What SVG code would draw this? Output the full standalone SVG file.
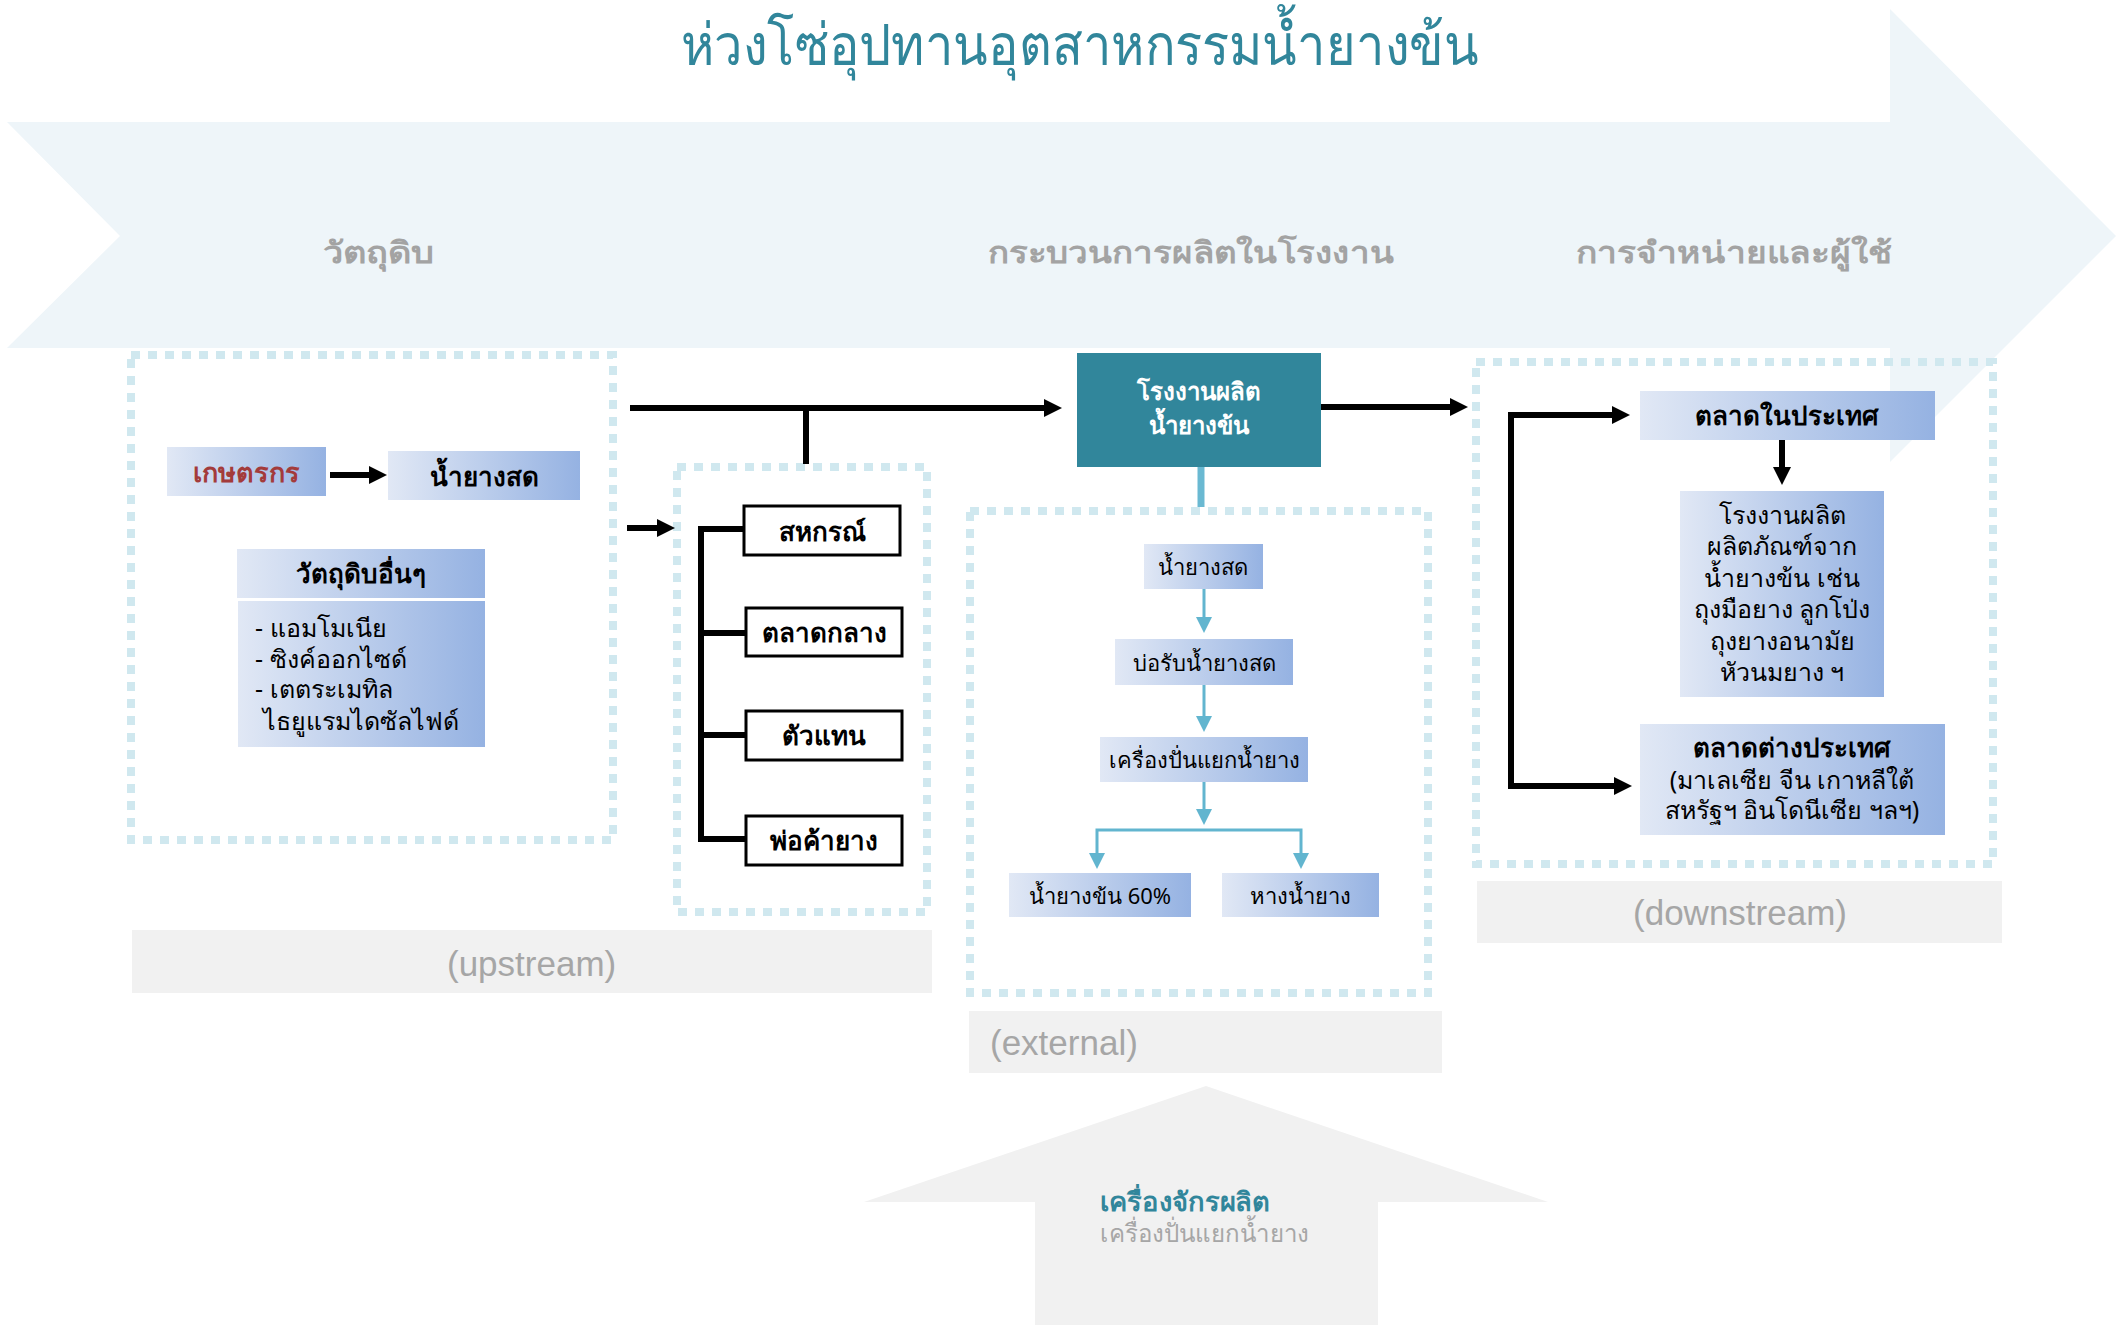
<svg xmlns="http://www.w3.org/2000/svg" width="2127" height="1325" viewBox="0 0 2127 1325">
<style>
text{font-family:"Noto Sans","DejaVu Sans",sans-serif}
.box{fill:url(#gb)}
.wb{fill:#fff;stroke:#000;stroke-width:3}
.zone{fill:none;stroke:#d0e8ef;stroke-width:8;stroke-dasharray:9 8}
.lbl{fill:#f1f1f1}
.lt{font-family:"Liberation Sans",sans-serif;font-size:35px;fill:#a6a6a6}
.hd{font-size:30px;font-weight:bold;fill:#a3a3a3;text-anchor:middle}
.bt{font-size:26px;font-weight:bold;fill:#000;text-anchor:middle}
.rt{font-size:25px;fill:#000;text-anchor:middle}
.ls{font-size:25px;fill:#000}
.et{font-size:22px;fill:#000;text-anchor:middle}
.k{fill:none;stroke:#000;stroke-width:6}
.t{fill:none;stroke:#62b5cf;stroke-width:3}
</style>
<defs>
<linearGradient id="gb" x1="0" y1="0" x2="1" y2="0">
<stop offset="0" stop-color="#e1e8f5"/>
<stop offset="1" stop-color="#95b2e2"/>
</linearGradient>
<marker id="ah" viewBox="0 0 18 18" markerWidth="18" markerHeight="18" markerUnits="userSpaceOnUse" refX="2" refY="9" orient="auto-start-reverse">
<path d="M0,0 L18,9 L0,18 z" fill="#000"/>
</marker>
<marker id="ta" viewBox="0 0 16 16" markerWidth="16" markerHeight="16" markerUnits="userSpaceOnUse" refX="2" refY="8" orient="auto-start-reverse">
<path d="M0,0 L16,8 L0,16 z" fill="#62b5cf"/>
</marker>
</defs>

<g id="background">
<polygon points="7,122 1890,122 1890,9 2116,236 1890,462 1890,348 7,348 120,236" fill="#eef5f9"/>
<text x="1080" y="65" font-size="58" fill="#31869b" text-anchor="middle" textLength="798" lengthAdjust="spacingAndGlyphs">ห่วงโซ่อุปทานอุตสาหกรรมน้ำยางข้น</text>
<text class="hd" x="378" y="263" textLength="111" lengthAdjust="spacingAndGlyphs">วัตถุดิบ</text>
<text class="hd" x="1191" y="263" textLength="406" lengthAdjust="spacingAndGlyphs">กระบวนการผลิตในโรงงาน</text>
<text class="hd" x="1734" y="263" textLength="316" lengthAdjust="spacingAndGlyphs">การจำหน่ายและผู้ใช้</text>
</g>

<g id="zones">
<rect class="zone" x="131" y="355" width="482" height="485"/>
<rect class="zone" x="677" y="467" width="250" height="445"/>
<rect class="zone" x="970" y="511" width="458" height="482"/>
<rect class="zone" x="1476" y="362" width="517" height="502"/>
</g>

<g id="stage-labels">
<rect class="lbl" x="132" y="930" width="800" height="63"/>
<text class="lt" x="447" y="976">(upstream)</text>
<rect class="lbl" x="969" y="1011" width="473" height="62"/>
<text class="lt" x="990" y="1055">(external)</text>
<rect class="lbl" x="1477" y="881" width="525" height="62"/>
<text class="lt" x="1740" y="925" text-anchor="middle">(downstream)</text>
</g>

<g id="machine">
<polygon points="1206,1086 1548,1202 1378,1202 1378,1325 1035,1325 1035,1202 864,1202" fill="#f1f1f1"/>
<text x="1100" y="1211" font-size="26" font-weight="bold" fill="#31869b" textLength="170" lengthAdjust="spacingAndGlyphs">เครื่องจักรผลิต</text>
<text x="1100" y="1242" font-size="25" fill="#a6a6a6" textLength="209" lengthAdjust="spacingAndGlyphs">เครื่องปั่นแยกน้ำยาง</text>
</g>

<g id="connectors">
<path class="k" d="M330,475 H371" stroke-width="5" marker-end="url(#ah)"/>
<path class="k" d="M630,408 H1046" marker-end="url(#ah)"/>
<path class="k" d="M806,408 V464"/>
<path class="k" d="M627,528 H659" stroke-width="5" marker-end="url(#ah)"/>
<path class="k" d="M743,529 H701 V839 H746 M701,633 H746 M701,735 H746" stroke-width="5"/>
<path class="k" d="M1321,407 H1452" marker-end="url(#ah)"/>
<path class="k" d="M1614,415 H1511 V786 H1616" marker-start="url(#ah)" marker-end="url(#ah)"/>
<path class="k" d="M1782,440 V469" stroke-width="5" marker-end="url(#ah)"/>
<path d="M1201,467 V507" fill="none" stroke="#6ab9d2" stroke-width="7"/>
<path class="t" d="M1204,589 V619" marker-end="url(#ta)"/>
<path class="t" d="M1204,685 V718" marker-end="url(#ta)"/>
<path class="t" d="M1204,782 V811" marker-end="url(#ta)"/>
<path class="t" d="M1097,855 V830 H1301 V855" marker-start="url(#ta)" marker-end="url(#ta)"/>
</g>

<g id="farmer">
<rect class="box" x="167" y="447" width="159" height="49"/>
<text class="bt" x="246" y="482" style="fill:#a33b3b;font-size:27px">เกษตรกร</text>
</g>
<g id="fresh-latex">
<rect class="box" x="388" y="451" width="192" height="49"/>
<text class="bt" x="484" y="486">น้ำยางสด</text>
</g>
<g id="other-raw">
<rect class="box" x="237" y="549" width="248" height="49"/>
<text class="bt" x="361" y="583">วัตถุดิบอื่นๆ</text>
<rect class="box" x="238" y="601" width="247" height="146"/>
<text class="ls" x="255" y="637">- แอมโมเนีย</text>
<text class="ls" x="255" y="668">- ซิงค์ออกไซด์</text>
<text class="ls" x="255" y="698">- เตตระเมทิล</text>
<text class="ls" x="263" y="730">ไธยูแรมไดซัลไฟด์</text>
</g>

<g id="coop"><rect class="wb" x="744" y="506" width="156" height="49"/><text class="bt" x="822" y="541">สหกรณ์</text></g>
<g id="central-market"><rect class="wb" x="746" y="608" width="156" height="48"/><text class="bt" x="824" y="642">ตลาดกลาง</text></g>
<g id="agent"><rect class="wb" x="746" y="711" width="156" height="49"/><text class="bt" x="824" y="745">ตัวแทน</text></g>
<g id="dealer"><rect class="wb" x="746" y="816" width="156" height="49"/><text class="bt" x="824" y="850">พ่อค้ายาง</text></g>

<g id="factory">
<rect x="1077" y="353" width="244" height="114" fill="#31869b"/>
<text class="bt" x="1199" y="400" style="fill:#fff;font-size:24px">โรงงานผลิต</text>
<text class="bt" x="1199" y="434" style="fill:#fff;font-size:24px">น้ำยางข้น</text>
</g>

<g id="ext-fresh"><rect class="box" x="1144" y="544" width="119" height="45"/><text class="et" x="1203" y="575">น้ำยางสด</text></g>
<g id="ext-pond"><rect class="box" x="1115" y="639" width="178" height="46"/><text class="et" x="1204" y="671">บ่อรับน้ำยางสด</text></g>
<g id="ext-centrifuge"><rect class="box" x="1100" y="737" width="208" height="45"/><text class="et" x="1204" y="768">เครื่องปั่นแยกน้ำยาง</text></g>
<g id="ext-concentrate"><rect class="box" x="1009" y="873" width="182" height="44"/><text class="et" x="1100" y="904">น้ำยางข้น 60%</text></g>
<g id="ext-skim"><rect class="box" x="1222" y="873" width="157" height="44"/><text class="et" x="1300" y="904">หางน้ำยาง</text></g>

<g id="domestic"><rect class="box" x="1640" y="391" width="295" height="49"/><text class="bt" x="1787" y="425">ตลาดในประเทศ</text></g>
<g id="products">
<rect class="box" x="1680" y="491" width="204" height="206"/>
<text class="rt" x="1782" y="524">โรงงานผลิต</text>
<text class="rt" x="1782" y="555">ผลิตภัณฑ์จาก</text>
<text class="rt" x="1782" y="587">น้ำยางข้น เช่น</text>
<text class="rt" x="1782" y="618">ถุงมือยาง ลูกโป่ง</text>
<text class="rt" x="1782" y="650">ถุงยางอนามัย</text>
<text class="rt" x="1782" y="681">หัวนมยาง ฯ</text>
</g>
<g id="foreign">
<rect class="box" x="1640" y="724" width="305" height="111"/>
<text class="bt" x="1792" y="757">ตลาดต่างประเทศ</text>
<text class="rt" x="1792" y="789">(มาเลเซีย จีน เกาหลีใต้</text>
<text class="rt" x="1792" y="819">สหรัฐฯ อินโดนีเซีย ฯลฯ)</text>
</g>
</svg>
